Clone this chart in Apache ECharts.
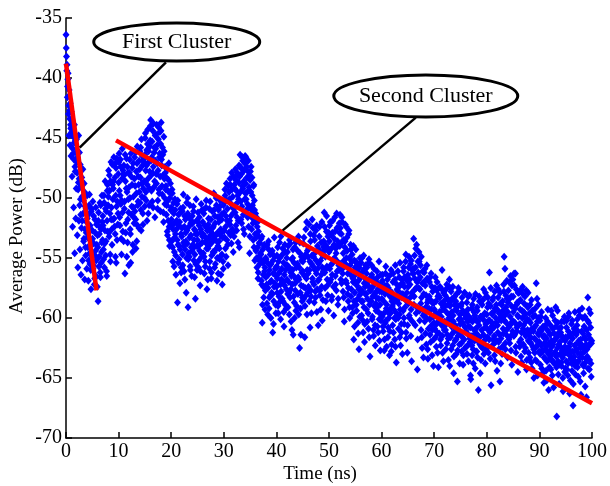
<!DOCTYPE html>
<html>
<head>
<meta charset="utf-8">
<script src="https://cdn.jsdelivr.net/npm/echarts@6/dist/echarts.min.js"></script>
<style>html,body{margin:0;padding:0;background:#fff}#c{width:610px;height:486px}</style>
</head>
<body>
<div id="c"></div>
<script>
// sample step of the measured power delay profile (ns); two interleaved sample sets
const sampleStep = 0.1;
const halfOffset = 0.05;
// measured average power (dB), 100 samples per 10 ns block (set A, at t)
const pw00 = [-36.4,-38.2,-38.9,-40.7,-39.6,-42.3,-41.0,-43.4,-42.1,-44.2,
-42.8,-44.5,-43.6,-45.9,-44.9,-46.8,-43.9,-47.4,-45.2,-46.2,
-45.1,-47.9,-46.6,-49.3,-44.8,-48.4,-50.6,-47.2,-51.4,-49.0,
-48.3,-51.9,-47.6,-50.2,-53.4,-49.5,-52.6,-54.1,-50.9,-52.0,
-49.8,-53.3,-51.4,-55.2,-50.6,-54.6,-52.3,-56.0,-51.1,-53.9,
-52.7,-50.3,-55.6,-53.8,-57.2,-51.8,-54.4,-56.5,-52.2,-55.0,
-53.1,-58.6,-51.2,-54.9,-52.4,-56.2,-50.6,-55.4,-53.7,-52.0,
-51.5,-54.3,-49.8,-55.8,-52.7,-50.9,-53.6,-56.1,-51.9,-48.9,
-50.6,-47.7,-53.2,-49.4,-54.7,-48.6,-51.8,-52.6,-47.2,-50.1,
-49.2,-46.6,-52.4,-48.3,-54.9,-47.5,-50.7,-53.5,-46.9,-51.3];
const pw10 = [-48.7,-46.3,-51.6,-49.8,-47.4,-53.4,-50.2,-45.9,-52.8,-48.0,
-47.3,-50.9,-56.3,-48.6,-52.1,-46.7,-49.5,-53.7,-47.9,-51.2,
-49.1,-46.8,-52.6,-55.4,-48.2,-50.7,-47.5,-53.9,-49.9,-51.6,
-48.4,-51.1,-46.2,-54.2,-49.6,-47.1,-52.3,-50.3,-48.9,-46.9,
-47.6,-50.4,-45.8,-52.7,-48.8,-46.5,-51.3,-49.2,-47.0,-50.0,
-46.4,-44.6,-49.5,-47.3,-51.9,-45.5,-48.4,-46.1,-50.6,-47.8,
-45.2,-43.5,-48.1,-46.6,-50.3,-44.4,-47.4,-49.1,-45.8,-51.6,
-46.9,-44.7,-48.8,-45.6,-50.9,-47.7,-44.1,-49.6,-46.3,-48.2,
-45.5,-43.7,-47.3,-49.7,-46.4,-51.2,-44.9,-48.4,-50.5,-47.9,
-49.0,-51.4,-47.6,-53.1,-50.2,-48.5,-52.4,-54.0,-49.6,-51.0];
const pw20 = [-50.8,-53.6,-49.6,-55.3,-52.2,-51.3,-54.5,-50.1,-53.0,-56.4,
-52.6,-50.5,-58.7,-53.9,-51.4,-55.1,-52.0,-54.3,-50.9,-56.2,
-53.2,-51.1,-55.6,-49.7,-54.0,-52.4,-56.8,-51.8,-53.6,-55.0,
-52.7,-50.0,-59.1,-54.6,-51.6,-53.3,-55.7,-52.1,-54.1,-56.5,
-51.5,-53.9,-50.7,-55.2,-52.6,-54.7,-58.4,-53.0,-51.9,-56.0,
-53.5,-51.2,-55.8,-52.3,-54.4,-57.3,-52.9,-50.5,-54.9,-53.7,
-52.0,-54.6,-51.3,-56.3,-53.2,-55.3,-50.8,-53.8,-57.6,-52.5,
-54.2,-51.7,-53.4,-55.9,-50.3,-52.8,-56.7,-54.8,-51.1,-53.0,
-52.4,-49.6,-54.5,-51.5,-55.5,-53.1,-50.6,-56.9,-52.9,-54.0,
-51.0,-53.6,-55.1,-50.2,-52.6,-54.8,-51.8,-57.2,-53.3,-55.9];
const pw30 = [-50.4,-52.7,-49.3,-54.2,-51.5,-48.8,-53.5,-50.9,-55.6,-52.0,
-49.5,-51.9,-48.4,-53.1,-50.5,-47.9,-52.6,-49.9,-54.5,-51.2,
-48.9,-50.8,-47.6,-52.3,-49.4,-51.6,-48.1,-53.7,-50.1,-47.3,
-48.2,-46.4,-50.3,-47.5,-52.1,-49.0,-46.9,-51.4,-48.6,-53.0,
-47.1,-49.6,-46.6,-51.0,-48.3,-50.5,-47.8,-52.4,-49.1,-54.6,
-48.5,-50.9,-47.4,-52.6,-49.8,-51.7,-53.5,-48.9,-50.2,-55.2,
-52.0,-54.4,-51.6,-55.8,-53.1,-56.7,-52.8,-54.9,-53.7,-55.3,
-55.1,-53.4,-57.2,-60.4,-54.3,-56.4,-58.3,-53.9,-55.8,-57.7,
-56.6,-54.0,-58.8,-55.4,-57.5,-53.6,-59.2,-56.0,-54.7,-58.1,
-55.5,-57.9,-54.4,-61.2,-56.3,-58.6,-53.3,-57.1,-55.9,-59.6];
const pw40 = [-57.4,-54.8,-56.7,-59.0,-55.3,-58.2,-53.7,-56.1,-60.1,-57.8,
-55.9,-58.4,-54.2,-57.0,-59.5,-56.4,-53.9,-58.9,-55.6,-57.6,
-56.8,-54.5,-59.1,-55.7,-57.9,-53.5,-58.3,-56.2,-60.3,-55.1,
-57.2,-55.0,-61.4,-56.5,-58.7,-54.1,-57.7,-59.4,-55.8,-56.9,
-55.5,-58.0,-53.2,-56.8,-62.5,-54.6,-59.2,-57.3,-55.2,-58.6,
-56.1,-53.8,-58.4,-55.0,-61.6,-57.5,-52.6,-56.7,-59.7,-54.4,
-54.9,-57.4,-52.2,-56.0,-60.8,-53.6,-58.2,-55.5,-51.8,-57.0,
-55.7,-53.1,-58.7,-54.6,-57.8,-52.7,-56.3,-59.5,-54.0,-56.9,
-54.3,-56.8,-52.4,-58.1,-55.2,-53.7,-57.4,-60.2,-54.8,-56.1,
-53.6,-51.2,-56.2,-54.9,-58.6,-52.8,-55.7,-57.3,-53.2,-59.4];
const pw50 = [-54.5,-52.3,-57.0,-55.6,-53.1,-58.5,-56.4,-51.9,-55.1,-59.8,
-53.4,-51.6,-56.5,-54.2,-57.7,-52.5,-55.3,-58.9,-53.9,-56.0,
-52.9,-51.4,-55.5,-53.8,-57.1,-52.0,-56.3,-54.6,-58.3,-60.3,
-54.1,-52.2,-56.9,-55.0,-53.3,-58.0,-55.8,-57.5,-52.7,-59.1,
-55.6,-53.9,-58.2,-56.5,-54.7,-59.6,-57.0,-61.8,-55.2,-57.9,
-56.4,-54.3,-58.9,-57.3,-55.5,-60.4,-56.9,-62.6,-58.1,-55.0,
-57.6,-55.4,-59.8,-56.2,-58.6,-61.2,-54.8,-57.1,-60.5,-58.0,
-56.8,-59.3,-55.8,-58.4,-57.3,-60.9,-55.1,-58.9,-63.2,-57.7,
-57.5,-55.6,-60.1,-58.2,-56.7,-61.5,-59.0,-57.0,-62.3,-58.8,
-58.3,-56.1,-60.7,-57.6,-59.5,-55.3,-61.9,-58.9,-57.2,-60.2];
const pw60 = [-57.8,-59.9,-56.4,-61.1,-58.6,-62.7,-57.3,-60.4,-55.7,-59.2,
-58.9,-56.8,-61.6,-57.5,-60.0,-63.1,-58.2,-59.6,-56.0,-62.2,
-57.9,-60.6,-56.3,-59.3,-58.4,-61.8,-55.6,-60.1,-63.7,-57.2,
-58.5,-56.1,-60.9,-57.4,-59.7,-55.4,-62.3,-58.0,-61.2,-56.8,
-57.1,-59.4,-55.8,-60.5,-56.6,-58.3,-54.7,-61.7,-57.9,-62.9,
-56.4,-58.8,-54.9,-60.0,-57.2,-55.5,-59.3,-63.6,-56.0,-58.1,
-55.9,-53.4,-58.2,-56.7,-60.6,-54.2,-57.5,-59.1,-64.3,-55.3,
-56.8,-54.5,-59.4,-57.6,-55.6,-61.0,-58.3,-62.5,-56.1,-59.8,
-58.0,-56.2,-60.3,-57.3,-59.1,-62.2,-55.6,-58.7,-63.4,-60.9,
-59.2,-57.0,-61.4,-58.5,-56.3,-60.6,-63.1,-57.8,-59.9,-61.8];
const pw70 = [-58.7,-60.9,-56.6,-59.6,-62.4,-57.7,-61.2,-58.2,-64.1,-60.2,
-59.5,-57.4,-61.8,-58.8,-60.6,-56.0,-62.9,-59.1,-57.9,-61.0,
-60.3,-58.1,-62.6,-59.5,-57.2,-61.4,-58.9,-63.5,-60.0,-56.8,
-59.0,-61.6,-57.8,-60.7,-58.4,-62.3,-59.8,-64.6,-61.1,-58.2,
-60.6,-58.6,-63.0,-59.4,-65.3,-61.5,-57.5,-60.1,-62.2,-59.7,
-61.2,-59.0,-62.8,-58.3,-60.4,-63.9,-59.6,-61.8,-57.9,-60.8,
-60.0,-62.4,-58.7,-61.3,-59.3,-63.6,-60.7,-58.1,-62.0,-64.8,
-61.5,-59.2,-63.1,-60.3,-62.6,-58.4,-61.0,-59.8,-64.2,-60.9,
-60.2,-62.8,-59.4,-61.7,-66.0,-60.6,-58.6,-62.2,-59.9,-63.5,
-61.0,-58.9,-62.5,-60.1,-57.6,-61.9,-59.6,-63.8,-60.5,-58.2];
const pw80 = [-59.7,-61.6,-58.3,-62.9,-60.2,-56.2,-61.2,-59.0,-65.6,-60.7,
-60.4,-58.5,-62.2,-59.5,-61.5,-57.8,-63.6,-60.0,-58.9,-61.9,
-59.3,-61.2,-57.6,-62.6,-60.1,-65.3,-58.8,-61.7,-59.9,-63.0,
-58.6,-60.9,-57.2,-54.9,-59.8,-62.1,-58.1,-60.4,-56.9,-61.5,
-59.5,-57.7,-61.8,-58.4,-60.6,-56.5,-62.7,-59.0,-57.3,-61.1,
-58.2,-60.3,-56.3,-61.4,-59.2,-62.4,-57.6,-60.8,-58.7,-64.5,
-59.9,-57.9,-62.0,-60.5,-58.5,-63.2,-61.2,-59.4,-57.4,-60.9,
-60.6,-58.8,-62.8,-59.7,-61.5,-57.7,-63.5,-60.1,-59.1,-61.9,
-61.3,-59.6,-63.3,-60.4,-62.1,-58.5,-64.2,-61.0,-59.9,-62.6,
-60.8,-62.9,-59.2,-61.8,-57.1,-63.6,-60.3,-62.2,-58.9,-61.4];
const pw90 = [-62.0,-60.2,-63.9,-61.1,-59.5,-62.7,-64.6,-60.7,-61.6,-63.3,
-61.5,-63.4,-60.0,-62.4,-65.2,-61.0,-59.3,-63.0,-62.1,-64.1,
-62.7,-60.6,-64.3,-61.9,-63.5,-59.8,-62.2,-65.8,-61.3,-63.8,
-61.8,-59.1,-63.2,-68.2,-62.5,-60.4,-64.7,-61.2,-63.9,-62.0,
-62.4,-60.8,-64.0,-61.5,-63.3,-66.1,-62.9,-60.3,-64.5,-61.9,
-61.6,-63.6,-60.2,-62.6,-64.8,-61.1,-59.6,-63.1,-62.1,-65.2,
-62.8,-60.5,-64.4,-61.7,-67.3,-63.5,-60.9,-62.3,-64.0,-61.2,
-61.4,-63.7,-60.1,-62.9,-64.9,-61.9,-59.8,-63.3,-62.5,-66.4,
-62.2,-59.2,-63.9,-61.3,-64.6,-60.7,-62.8,-65.7,-61.8,-63.4,
-61.0,-63.2,-58.3,-62.4,-60.4,-64.3,-61.7,-59.6,-63.8,-62.1];
// set B, samples at t + 0.05 ns
const qw00 = [-37.5,-39.4,-41.6,-40.1,-43.0,-44.8,-42.7,-45.6,-43.9,-46.5,
-44.1,-48.2,-52.4,-46.3,-50.8,-45.4,-54.6,-47.8,-51.7,-49.2,
-47.0,-53.1,-55.8,-48.7,-51.9,-46.2,-54.3,-50.1,-56.4,-52.5,
-49.9,-55.2,-51.3,-53.6,-48.8,-56.8,-50.7,-54.8,-52.9,-55.9,
-51.7,-54.1,-56.9,-52.8,-49.7,-55.5,-53.5,-57.6,-50.9,-54.9,
-53.4,-55.9,-51.5,-54.7,-56.7,-52.9,-50.8,-55.2,-53.9,-57.4,
-54.1,-51.9,-55.7,-53.0,-50.4,-56.6,-52.6,-54.5,-49.8,-53.5,
-52.3,-55.1,-50.4,-53.8,-48.6,-54.8,-51.1,-56.5,-49.4,-52.8,
-49.9,-52.9,-48.1,-51.3,-55.3,-47.0,-50.8,-53.9,-48.9,-51.8,
-48.6,-51.7,-47.2,-53.0,-49.8,-55.4,-46.7,-50.3,-52.2,-48.0];
const qw10 = [-47.0,-49.4,-52.3,-46.8,-50.5,-54.7,-48.4,-51.2,-47.7,-53.6,
-48.1,-50.3,-46.4,-52.9,-49.2,-54.9,-47.4,-51.8,-50.1,-55.6,
-47.9,-50.0,-53.0,-46.3,-51.4,-48.9,-54.5,-47.1,-50.8,-52.1,
-46.6,-49.0,-51.8,-47.8,-53.6,-45.7,-50.6,-48.2,-52.5,-49.5,
-46.1,-48.3,-51.0,-45.1,-49.9,-47.3,-52.2,-46.8,-48.6,-50.7,
-45.0,-47.7,-50.2,-46.0,-48.9,-44.3,-51.3,-47.0,-49.2,-45.7,
-44.0,-46.9,-49.4,-45.3,-47.9,-50.8,-43.8,-46.2,-48.6,-44.8,
-45.9,-48.0,-43.9,-47.1,-50.2,-45.1,-49.3,-46.6,-44.5,-51.1,
-44.4,-46.8,-49.0,-45.8,-48.1,-52.0,-46.1,-50.0,-47.4,-49.3,
-48.3,-50.6,-52.8,-49.4,-51.9,-47.1,-53.5,-50.0,-48.8,-52.2];
const qw20 = [-51.8,-49.3,-54.1,-52.6,-50.4,-55.7,-53.3,-51.0,-54.8,-52.0,
-51.9,-53.5,-50.2,-55.4,-52.3,-54.0,-57.1,-51.2,-53.0,-55.8,
-52.5,-54.7,-50.8,-53.7,-56.1,-51.5,-54.3,-52.9,-57.9,-50.4,
-53.8,-51.3,-55.1,-52.4,-54.9,-50.6,-56.0,-53.1,-51.9,-54.4,
-52.1,-54.2,-51.1,-53.5,-56.6,-52.7,-55.5,-50.1,-54.0,-53.0,
-54.0,-52.0,-55.2,-51.6,-53.9,-56.1,-52.6,-54.6,-51.0,-53.2,
-53.0,-51.0,-54.9,-52.3,-55.7,-53.6,-50.2,-54.2,-52.7,-56.8,
-52.2,-54.0,-50.9,-55.3,-53.1,-51.8,-56.2,-53.7,-52.5,-54.5,
-53.4,-51.0,-55.8,-52.1,-54.3,-50.0,-53.6,-55.0,-51.6,-56.3,
-52.0,-54.2,-50.7,-53.1,-56.4,-51.4,-54.7,-52.8,-55.3,-50.6];
const qw30 = [-51.2,-53.3,-49.8,-52.4,-54.9,-50.2,-51.9,-53.9,-49.0,-52.9,
-50.1,-52.2,-48.9,-51.5,-53.8,-49.3,-50.8,-52.9,-48.2,-53.2,
-49.2,-51.2,-48.5,-50.5,-52.7,-47.9,-49.8,-51.9,-48.7,-54.1,
-47.4,-49.5,-51.8,-48.0,-50.7,-46.6,-49.2,-52.6,-47.7,-50.1,
-46.5,-48.8,-50.1,-47.4,-49.5,-51.6,-46.9,-48.2,-50.8,-53.2,
-47.8,-49.5,-51.3,-48.3,-50.6,-52.1,-49.0,-54.1,-51.0,-53.0,
-51.3,-53.3,-55.0,-52.4,-54.1,-56.2,-51.9,-53.8,-55.5,-54.6,
-54.7,-56.9,-53.2,-58.9,-55.4,-57.4,-54.0,-56.1,-59.3,-55.0,
-55.1,-57.2,-53.9,-59.7,-56.4,-54.3,-58.3,-55.6,-57.0,-60.0,
-56.9,-54.6,-58.0,-55.2,-60.5,-57.4,-54.9,-56.4,-58.9,-55.8];
const qw40 = [-55.7,-57.9,-54.1,-59.6,-56.3,-58.7,-55.0,-57.2,-53.2,-56.8,
-56.9,-54.7,-58.6,-55.4,-60.7,-57.3,-54.5,-56.0,-59.2,-55.0,
-55.6,-58.0,-54.0,-57.0,-59.7,-55.9,-53.8,-57.6,-56.5,-61.0,
-56.0,-54.3,-58.2,-55.4,-60.0,-57.1,-53.7,-56.8,-59.0,-55.5,
-54.4,-56.6,-59.7,-55.8,-53.7,-57.9,-61.4,-54.9,-56.2,-58.3,
-55.3,-57.4,-53.3,-56.5,-59.0,-54.7,-58.1,-52.0,-56.0,-57.9,
-56.3,-54.2,-58.6,-55.3,-53.0,-57.7,-59.6,-54.8,-56.7,-52.5,
-54.9,-57.2,-53.5,-56.0,-58.3,-55.2,-52.3,-57.6,-55.9,-60.6,
-55.5,-53.2,-57.7,-54.5,-59.3,-56.4,-52.0,-55.8,-58.5,-54.1,
-54.4,-52.4,-57.5,-53.9,-55.9,-51.5,-56.8,-58.1,-54.2,-52.9];
const qw50 = [-53.6,-55.9,-52.0,-56.8,-54.2,-58.2,-52.9,-55.4,-57.4,-53.9,
-55.0,-52.8,-57.2,-54.6,-51.3,-56.1,-53.6,-58.4,-55.6,-52.1,
-54.0,-52.5,-56.8,-53.0,-51.6,-55.9,-57.8,-53.5,-55.2,-59.3,
-53.6,-55.5,-52.4,-57.1,-54.4,-56.3,-58.6,-53.0,-55.0,-60.0,
-56.1,-54.3,-57.6,-55.3,-59.1,-56.7,-54.0,-58.6,-60.7,-55.8,
-57.0,-55.3,-59.4,-56.1,-58.4,-61.3,-57.6,-55.8,-59.9,-56.6,
-56.6,-58.6,-55.0,-57.8,-60.2,-56.0,-59.1,-62.0,-57.4,-55.6,
-58.0,-56.3,-60.3,-57.0,-59.6,-55.4,-61.6,-57.7,-58.6,-56.6,
-58.6,-56.4,-59.9,-57.4,-61.0,-55.9,-58.0,-60.6,-57.9,-59.4,
-57.0,-59.1,-56.6,-61.2,-58.4,-60.1,-57.8,-62.7,-56.4,-59.7];
const qw60 = [-58.4,-56.9,-60.7,-57.7,-59.6,-61.8,-58.0,-56.3,-60.2,-62.4,
-57.3,-59.5,-60.8,-58.0,-56.5,-61.1,-57.8,-59.2,-62.8,-58.6,
-59.0,-57.0,-61.2,-58.7,-60.0,-56.8,-62.4,-58.2,-59.6,-57.6,
-57.7,-60.0,-58.8,-56.6,-61.6,-59.3,-57.2,-60.5,-58.3,-63.0,
-58.0,-56.1,-60.0,-57.4,-59.1,-55.3,-61.2,-58.6,-56.9,-60.6,
-57.4,-55.8,-59.8,-56.8,-58.3,-61.5,-55.2,-57.9,-60.3,-56.3,
-56.3,-58.9,-54.8,-57.6,-55.8,-59.6,-53.9,-57.0,-61.8,-56.2,
-57.5,-55.3,-60.2,-56.6,-58.8,-54.9,-61.6,-57.1,-59.3,-63.3,
-57.0,-59.6,-55.9,-61.3,-58.1,-60.0,-56.7,-62.6,-58.5,-59.4,
-58.2,-60.1,-56.6,-62.0,-59.3,-57.4,-61.0,-58.8,-64.0,-60.4];
const qw70 = [-59.3,-57.5,-61.6,-58.6,-60.5,-57.0,-62.9,-59.9,-58.1,-61.3,
-58.3,-60.2,-62.3,-59.9,-57.6,-61.5,-59.3,-63.6,-58.6,-60.7,
-59.0,-61.0,-57.6,-60.4,-62.1,-58.4,-61.7,-59.7,-57.4,-64.0,
-60.1,-58.6,-62.6,-59.5,-61.3,-57.4,-60.3,-63.2,-58.9,-61.9,
-59.3,-61.8,-58.0,-60.9,-62.7,-59.0,-61.2,-57.8,-63.8,-60.5,
-60.1,-62.1,-58.8,-61.6,-59.4,-63.1,-60.6,-57.9,-62.5,-59.8,
-61.1,-59.6,-63.0,-60.3,-58.2,-62.2,-59.9,-61.7,-60.8,-65.1,
-60.2,-62.3,-58.9,-61.5,-63.8,-59.5,-61.9,-60.0,-58.0,-62.8,
-61.3,-59.1,-63.3,-60.3,-62.0,-58.2,-61.6,-64.6,-59.9,-62.4,
-59.9,-62.1,-58.5,-61.4,-63.0,-59.7,-60.8,-57.9,-62.6,-60.4];
const qw80 = [-60.9,-59.1,-62.4,-58.8,-61.8,-60.2,-63.4,-57.5,-61.0,-59.6,
-59.7,-61.8,-58.3,-60.8,-63.1,-59.2,-62.0,-60.4,-57.3,-64.4,
-60.6,-58.3,-62.0,-59.6,-61.4,-57.9,-63.8,-60.2,-58.9,-62.4,
-59.4,-61.3,-57.8,-60.2,-55.9,-62.6,-59.1,-61.0,-58.4,-63.3,
-58.7,-60.8,-57.0,-62.1,-59.9,-61.5,-58.2,-63.9,-60.3,-56.8,
-59.5,-61.5,-57.3,-60.4,-56.3,-62.9,-58.9,-61.1,-59.8,-57.9,
-60.6,-58.6,-62.4,-59.3,-61.8,-57.6,-63.7,-60.0,-58.0,-62.2,
-59.5,-61.3,-58.2,-62.5,-60.3,-64.3,-59.0,-61.0,-57.9,-62.9,
-60.2,-62.0,-58.9,-61.6,-63.7,-60.9,-59.4,-62.4,-61.1,-65.0,
-61.7,-59.8,-63.5,-60.6,-62.4,-58.4,-64.8,-61.3,-60.0,-62.8];
const qw90 = [-61.0,-63.0,-59.9,-62.3,-64.2,-60.9,-62.8,-61.5,-65.4,-62.1,
-62.6,-60.6,-64.4,-61.7,-63.6,-60.3,-62.9,-66.0,-61.2,-63.4,
-61.4,-63.1,-59.4,-62.4,-64.8,-60.9,-63.7,-61.9,-62.9,-60.2,
-62.9,-60.7,-64.1,-61.6,-59.4,-63.6,-62.2,-65.5,-60.9,-63.0,
-61.2,-63.7,-60.3,-62.7,-65.0,-61.7,-63.0,-59.9,-62.4,-64.2,
-62.9,-60.8,-64.3,-61.6,-63.8,-59.9,-62.4,-66.3,-61.3,-63.4,
-61.6,-63.8,-60.2,-62.8,-65.5,-61.2,-63.2,-59.5,-64.7,-62.2,
-62.6,-60.6,-64.1,-61.1,-63.6,-59.4,-62.2,-65.3,-61.8,-63.0,
-61.1,-63.3,-60.0,-62.5,-64.0,-61.6,-59.9,-63.7,-62.2,-66.6,
-62.6,-60.2,-64.2,-61.4,-59.3,-63.5,-62.1,-60.8,-64.9,-61.9];

// fitted decay lines [time ns, dB]
const firstClusterFit = [[0, -38.8], [5.8, -57.7]];
const secondClusterFit = [[9.5, -45.2], [100, -67.1]];

// axis ticks
const xTicks = {min: 0, max: 100, step: 10};
const yTicks = {min: -70, max: -35, step: 5};

// callouts (label, ellipse centre [ns, dB], pointer from [ns,dB] to [ns,dB])
const calloutLabels = ['First Cluster', 'Second Cluster'];
const calloutCentres = [[21.05, -37.0], [68.4, -41.5]];
const calloutPointers = [[[19.0, -38.7], [2.6, -45.8]], [[66.5, -43.3], [41.2, -52.7]]];

const blocksA = [pw00, pw10, pw20, pw30, pw40, pw50, pw60, pw70, pw80, pw90];
const blocksB = [qw00, qw10, qw20, qw30, qw40, qw50, qw60, qw70, qw80, qw90];
const samples = [];
blocksA.forEach(function (blk, b) {
  blk.forEach(function (v, i) {
    samples.push([+(b * 10 + i * sampleStep).toFixed(2), v]);
    samples.push([+(b * 10 + i * sampleStep + halfOffset).toFixed(2), blocksB[b][i]]);
  });
});

const FONT = '"Liberation Serif", "Times New Roman", serif';
const chart = echarts.init(document.getElementById('c'), null, {renderer: 'canvas'});
chart.setOption({
  animation: false,
  backgroundColor: '#ffffff',
  grid: {left: 66, right: 12, top: 18, bottom: 48, containLabel: false},
  xAxis: {
    type: 'value', min: xTicks.min, max: xTicks.max, interval: xTicks.step,
    splitLine: {show: false},
    axisLine: {onZero: false, lineStyle: {color: '#000', width: 1.5}},
    axisTick: {inside: true, length: 6, lineStyle: {color: '#000', width: 1.5}},
    axisLabel: {color: '#000', fontFamily: FONT, fontSize: 20, margin: 4}
  },
  yAxis: {
    type: 'value', min: yTicks.min, max: yTicks.max, interval: yTicks.step,
    splitLine: {show: false},
    axisLine: {show: true, onZero: false, lineStyle: {color: '#000', width: 1.5}},
    axisTick: {show: true, inside: true, length: 6, lineStyle: {color: '#000', width: 1.5}},
    axisLabel: {color: '#000', fontFamily: FONT, fontSize: 20, margin: 4}
  },
  series: [
    {type: 'scatter', data: samples, symbol: 'diamond', symbolSize: [7, 8],
     itemStyle: {color: '#0000ff', opacity: 1}, z: 2, large: false},
    {type: 'line', data: firstClusterFit, symbol: 'none',
     lineStyle: {color: '#ff0000', width: 4.5}, z: 3},
    {type: 'line', data: secondClusterFit, symbol: 'none',
     lineStyle: {color: '#ff0000', width: 4.5}, z: 3}
  ]
});

const g = [];
calloutPointers.forEach(function (p) {
  const a = chart.convertToPixel({gridIndex: 0}, p[0]);
  const b = chart.convertToPixel({gridIndex: 0}, p[1]);
  g.push({type: 'line', shape: {x1: a[0], y1: a[1], x2: b[0], y2: b[1]},
    style: {stroke: '#000', lineWidth: 2.5}, z: 10});
});
const radii = [[83, 19], [92, 21]];
calloutCentres.forEach(function (c, i) {
  const p = chart.convertToPixel({gridIndex: 0}, c);
  g.push({type: 'ellipse', shape: {cx: p[0], cy: p[1], rx: radii[i][0], ry: radii[i][1]},
    style: {fill: '#fff', stroke: '#000', lineWidth: 3}, z: 11});
  g.push({type: 'text', x: p[0], y: p[1], z: 12,
    style: {text: calloutLabels[i], fill: '#000', font: '22px ' + FONT, align: 'center', verticalAlign: 'middle'}});
});
// axis titles
g.push({type: 'text', x: 320, y: 474, z: 12,
  style: {text: 'Time (ns)', fill: '#000', font: '19px ' + FONT, align: 'center', verticalAlign: 'middle'}});
g.push({type: 'text', x: 17, y: 236, rotation: Math.PI / 2, z: 12,
  style: {text: 'Average Power (dB)', fill: '#000', font: '19px ' + FONT, align: 'center', verticalAlign: 'middle'}});
chart.setOption({graphic: g});
</script>
</body>
</html>
